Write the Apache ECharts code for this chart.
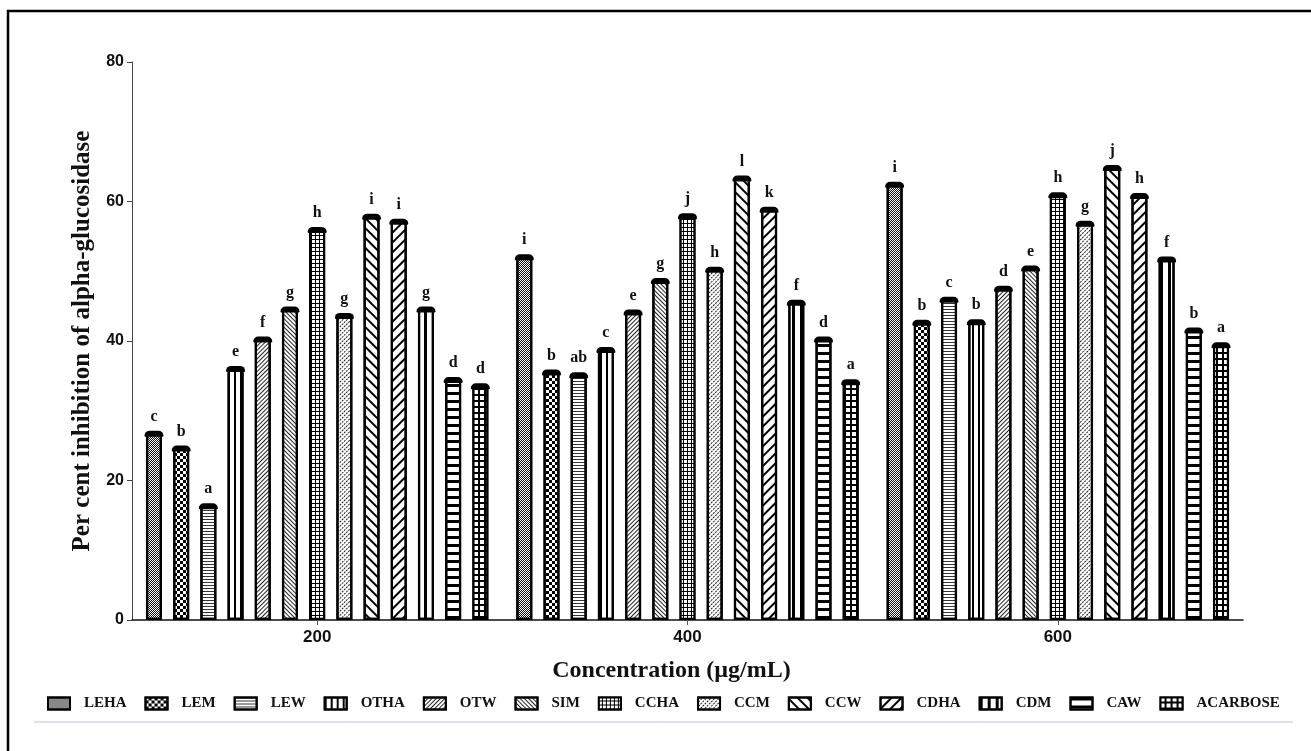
<!DOCTYPE html>
<html>
<head>
<meta charset="utf-8">
<title>Alpha-glucosidase inhibition</title>
<script src="https://cdn.jsdelivr.net/npm/echarts@6/dist/echarts.min.js"></script>
<style>
  html, body { margin: 0; padding: 0; background: #fff; }
  #chart { width: 1311px; height: 751px; }
</style>
</head>
<body>
<div id="chart"></div>
<script>
// Concentrations on the x axis
const categories = ['200', '400', '600'];
const yTicks = { min: 0, max: 80, interval: 20 };

// Extract names (legend order)
const seriesNames = ['LEHA', 'LEM', 'LEW', 'OTHA', 'OTW', 'SIM', 'CCHA', 'CCM', 'CCW', 'CDHA', 'CDM', 'CAW', 'ACARBOSE'];

// Mean per cent inhibition at 200, 400, 600 µg/mL
const leha     = [26.7, 52.0, 62.4];
const lem      = [24.6, 35.5, 42.6];
const lew      = [16.3, 35.1, 45.9];
const otha     = [36.0, 38.7, 42.7];
const otw      = [40.2, 44.1, 47.5];
const sim      = [44.5, 48.6, 50.4];
const ccha     = [55.9, 57.9, 60.9];
const ccm      = [43.6, 50.2, 56.8];
const ccw      = [57.8, 63.3, 64.8];
const cdha     = [57.1, 58.8, 60.8];
const cdm      = [44.5, 45.5, 51.7];
const caw      = [34.4, 40.2, 41.5];
const acarbose = [33.5, 34.1, 39.4];

// Significance letters printed above each bar
const lehaSig     = ['c', 'i', 'i'];
const lemSig      = ['b', 'b', 'b'];
const lewSig      = ['a', 'ab', 'c'];
const othaSig     = ['e', 'c', 'b'];
const otwSig      = ['f', 'e', 'd'];
const simSig      = ['g', 'g', 'e'];
const cchaSig     = ['h', 'j', 'h'];
const ccmSig      = ['g', 'h', 'g'];
const ccwSig      = ['i', 'l', 'j'];
const cdhaSig     = ['i', 'k', 'h'];
const cdmSig      = ['g', 'f', 'f'];
const cawSig      = ['d', 'd', 'b'];
const acarboseSig = ['d', 'a', 'a'];

const values = [leha, lem, lew, otha, otw, sim, ccha, ccm, ccw, cdha, cdm, caw, acarbose];
const sigLetters = [lehaSig, lemSig, lewSig, othaSig, otwSig, simSig, cchaSig, ccmSig, ccwSig, cdhaSig, cdmSig, cawSig, acarboseSig];

// Monochrome fill patterns, one per extract
const RISE = -Math.PI / 4;   // "/" hatching
const FALL = Math.PI / 4;    // "\" hatching
const patterns = [
  { symbol: 'rect', symbolSize: 1, color: '#111', dashArrayX: [[1, 1], [0, 1, 1, 0]], dashArrayY: [1, 0] },
  { symbol: 'rect', symbolSize: 1, color: '#000', dashArrayX: [[3, 3], [0, 3, 3, 0]], dashArrayY: [3, 0] },
  { symbol: 'rect', symbolSize: 1, color: '#333', dashArrayX: [1, 0], dashArrayY: [1, 2] },
  { symbol: 'rect', symbolSize: 1, color: '#000', dashArrayX: [1.5, 4], dashArrayY: [1, 0] },
  { symbol: 'rect', symbolSize: 1, color: '#222', dashArrayX: [1, 0], dashArrayY: [1, 2], rotation: RISE },
  { symbol: 'rect', symbolSize: 1, color: '#222', dashArrayX: [1, 0], dashArrayY: [1, 1.6], rotation: FALL },
  { symbol: 'rect', symbolSize: 1, color: '#fff', backgroundColor: '#000', dashArrayX: [3, 1], dashArrayY: [3, 1] },
  { symbol: 'rect', symbolSize: 1, color: '#222', dashArrayX: [2, 1], dashArrayY: [1, 1.5], rotation: RISE },
  { symbol: 'rect', symbolSize: 1, color: '#000', dashArrayX: [1, 0], dashArrayY: [2, 5], rotation: FALL },
  { symbol: 'rect', symbolSize: 1, color: '#000', dashArrayX: [1, 0], dashArrayY: [2, 5], rotation: RISE },
  { symbol: 'rect', symbolSize: 1, color: '#000', dashArrayX: [2.5, 5], dashArrayY: [1, 0] },
  { symbol: 'rect', symbolSize: 1, color: '#000', dashArrayX: [1, 0], dashArrayY: [2.5, 4.5] },
  { symbol: 'rect', symbolSize: 1, color: '#fff', backgroundColor: '#000', dashArrayX: [4, 1.2], dashArrayY: [4, 1.2] }
];

const serif = 'Liberation Serif, Times New Roman, serif';
const sans = 'Liberation Sans, Arial, sans-serif';

const series = seriesNames.map((name, i) => ({
  name: name,
  type: 'bar',
  data: values[i],
  barWidth: 16,
  barGap: '70%',
  barCategoryGap: '7%',
  itemStyle: {
    color: '#fff',
    borderColor: '#000',
    borderWidth: 2.2,
    decal: patterns[i]
  },
  label: {
    show: true,
    position: 'top',
    distance: -3,
    formatter: p => '{l|' + sigLetters[i][p.dataIndex] + '}\n{cap| }',
    rich: {
      l: { fontFamily: serif, fontWeight: 'bold', fontSize: 16, lineHeight: 18, color: '#111', padding: [0, 0, 10, 0], align: 'center' },
      cap: { fontSize: 1, lineHeight: 6, height: 6, width: 19, backgroundColor: '#000', borderRadius: [5, 5, 1, 1], align: 'center' }
    }
  },
  emphasis: { disabled: true },
  animation: false
}));

const chart = echarts.init(document.getElementById('chart'), null, { renderer: 'canvas' });
chart.setOption({
  backgroundColor: '#fff',
  animation: false,
  grid: { left: 132, right: 68, top: 62, bottom: 131, containLabel: false },
  legend: {
    data: seriesNames,
    left: 47,
    top: 696,
    padding: 0,
    itemGap: 18,
    itemWidth: 22,
    itemHeight: 12,
    icon: 'rect',
    selectedMode: false,
    textStyle: { fontFamily: serif, fontWeight: 'bold', fontSize: 15, color: '#111', padding: [0, 0, 0, 9] }
  },
  xAxis: {
    type: 'category',
    data: categories,
    name: 'Concentration (µg/mL)',
    nameLocation: 'middle',
    nameGap: 39,
    nameTextStyle: { fontFamily: serif, fontWeight: 'bold', fontSize: 24, color: '#111', padding: [0, 32, 0, 0] },
    axisLine: { lineStyle: { color: '#111', width: 1.5 } },
    axisTick: { show: true, alignWithLabel: true, length: 5, lineStyle: { color: '#555' } },
    axisLabel: { fontFamily: sans, fontWeight: 'bold', fontSize: 17, color: '#111', margin: 9 },
    splitLine: { show: false }
  },
  yAxis: {
    type: 'value',
    min: yTicks.min,
    max: yTicks.max,
    interval: yTicks.interval,
    name: 'Per cent inhibition of alpha-glucosidase',
    nameLocation: 'middle',
    nameGap: 34,
    nameTextStyle: { fontFamily: serif, fontWeight: 'bold', fontSize: 25, color: '#111' },
    axisLine: { show: true, lineStyle: { color: '#444', width: 1 } },
    axisTick: { show: true, length: 5, lineStyle: { color: '#444' } },
    axisLabel: { fontFamily: sans, fontWeight: 'bold', fontSize: 16, color: '#111', margin: 8 },
    splitLine: { show: false }
  },
  series: series,
  graphic: [
    // figure frame (top and left edges)
    { type: 'polyline', shape: { points: [[8, 751], [8, 11], [1311, 11]] }, style: { stroke: '#000', lineWidth: 2.5, fill: null }, silent: true },
    // thin rule under the legend
    { type: 'line', shape: { x1: 34, y1: 722, x2: 1293, y2: 722 }, style: { stroke: '#b4c4dc', lineWidth: 1 }, silent: true }
  ]
});
</script>
</body>
</html>
